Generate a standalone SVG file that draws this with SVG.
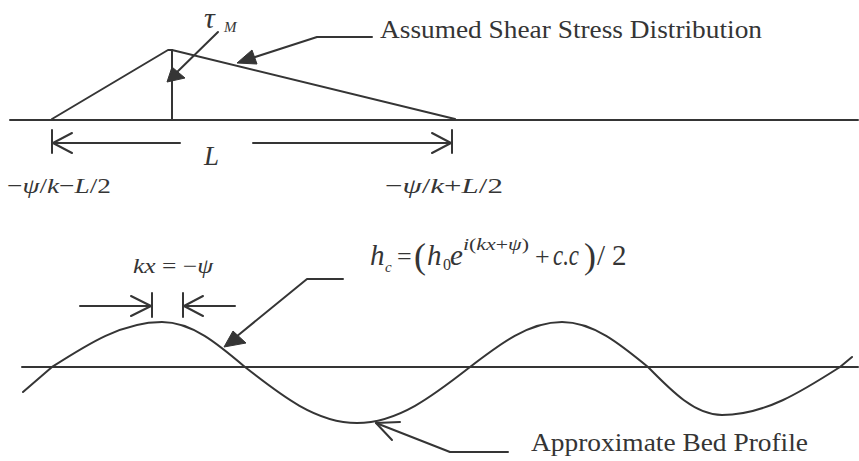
<svg xmlns="http://www.w3.org/2000/svg" width="859" height="461" viewBox="0 0 859 461">
<defs>
<style>
.ln{fill:none;stroke:#353535;stroke-width:2;stroke-linecap:round;stroke-linejoin:round}
.ah{fill:#353535;stroke:#353535;stroke-width:1}
.t{font-family:"Liberation Serif","Times New Roman",serif;fill:#353535}
.m{font-family:"Liberation Serif","Times New Roman",serif;font-style:italic;fill:#353535}
.u{font-style:normal}
</style>
</defs>
<rect width="859" height="461" fill="#ffffff"/>

<g id="top-axis">
<line class="ln" x1="10" y1="120" x2="858" y2="120"/>
</g>

<g id="shear-distribution">
<polyline class="ln" points="52,119 168,50 172,50 455,119"/>
<line class="ln" x1="172" y1="50" x2="172" y2="120"/>
</g>

<g id="tau-label">
<text class="m" font-family="Liberation Serif, serif" x="204" y="28" font-size="30">τ</text>
<text class="m" font-family="Liberation Serif, serif" x="224" y="32" font-size="15">M</text>
</g>

<g id="assumed-label">
<text class="t" font-family="Liberation Serif, serif" x="380" y="38" font-size="25" textLength="382" lengthAdjust="spacingAndGlyphs">Assumed Shear Stress Distribution</text>
</g>

<g id="L-dimension">
<line class="ln" x1="52" y1="130" x2="52" y2="153"/>
<line class="ln" x1="452" y1="130" x2="452" y2="153"/>
<line class="ln" x1="52" y1="143" x2="180" y2="143"/>
<line class="ln" x1="253" y1="143" x2="452" y2="143"/>
<polyline class="ln" points="72,133 53,143 72,153"/>
<polyline class="ln" points="432,133 451,143 432,153"/>
<text class="m" font-family="Liberation Serif, serif" x="204" y="165" font-size="27">L</text>
</g>

<g id="left-limit">
<text class="m" font-family="Liberation Serif, serif" x="7" y="193" font-size="22" textLength="104" lengthAdjust="spacingAndGlyphs"><tspan class="u">−</tspan>ψ<tspan class="u">/</tspan>k<tspan class="u">−</tspan>L<tspan class="u">/2</tspan></text>
</g>

<g id="right-limit">
<text class="m" font-family="Liberation Serif, serif" x="385" y="193" font-size="22" textLength="118" lengthAdjust="spacingAndGlyphs"><tspan class="u">−</tspan>ψ<tspan class="u">/</tspan>k<tspan class="u">+</tspan>L<tspan class="u">/2</tspan></text>
</g>

<g id="bottom-axis">
<line class="ln" x1="22" y1="367" x2="858" y2="367"/>
</g>

<g id="bed-profile">
<path class="ln" d="M23,392 L52,367 C87.9,344 122.2,322 162,322 C192,322 217.9,344 245,367 C281.5,395.7 316.5,423 357,423 C397.9,423 433.2,395.7 470,367 C500,344 528.7,322 562,322 C593.1,322 620,344 648,367 C672.1,391.6 695.2,415 722,415 C764.7,415 801.5,391.6 840,367 L852,357"/>
</g>

<g id="kx-dimension">
<line class="ln" x1="152" y1="293" x2="152" y2="317"/>
<line class="ln" x1="183" y1="293" x2="183" y2="317"/>
<line class="ln" x1="80" y1="306" x2="152" y2="306"/>
<line class="ln" x1="183" y1="306" x2="235" y2="306"/>
<polyline class="ln" points="131,296 151,306 131,316"/>
<polyline class="ln" points="203,296 184,306 203,316"/>
<text class="m" font-family="Liberation Serif, serif" x="133" y="273" font-size="21" textLength="80" lengthAdjust="spacingAndGlyphs">kx<tspan class="u"> = −</tspan>ψ</text>
</g>

<g id="hc-formula">
<text class="m" font-family="Liberation Serif, serif" x="370" y="265" font-size="29">h</text>
<text class="m" font-family="Liberation Serif, serif" x="385" y="272" font-size="15">c</text>
<text class="t" font-family="Liberation Serif, serif" x="397" y="265" font-size="26">=</text>
<text class="t" font-family="Liberation Serif, serif" x="414" y="268" font-size="36">(</text>
<text class="m" font-family="Liberation Serif, serif" x="427" y="265" font-size="29">h</text>
<text class="t" font-family="Liberation Serif, serif" x="443" y="270" font-size="16">0</text>
<text class="m" font-family="Liberation Serif, serif" x="450" y="265" font-size="29">e</text>
<text class="m" font-family="Liberation Serif, serif" x="463" y="250" font-size="17" textLength="66" lengthAdjust="spacingAndGlyphs">i<tspan class="u">(</tspan>kx<tspan class="u">+</tspan>ψ<tspan class="u">)</tspan></text>
<text class="t" font-family="Liberation Serif, serif" x="535" y="265" font-size="26">+</text>
<text class="m" font-family="Liberation Serif, serif" x="553" y="265" font-size="29" textLength="26" lengthAdjust="spacingAndGlyphs">c.c</text>
<text class="t" font-family="Liberation Serif, serif" x="584" y="268" font-size="36">)</text>
<text class="t" font-family="Liberation Serif, serif" x="597" y="265" font-size="29">/</text>
<text class="t" font-family="Liberation Serif, serif" x="612" y="265" font-size="29">2</text>
</g>

<g id="approx-label">
<text class="t" font-family="Liberation Serif, serif" x="531" y="451" font-size="25" textLength="277" lengthAdjust="spacingAndGlyphs">Approximate Bed Profile</text>
</g>

<g id="connectors">
<line class="ln" x1="218" y1="32" x2="172" y2="77"/>
<polygon class="ah" points="167,82 172,67 185,78"/>
<polyline class="ln" points="372,37 317,37 252,58"/>
<polygon class="ah" points="237,63 252,50 257,64"/>
<polyline class="ln" points="343,279 307,279 236,337"/>
<polygon class="ah" points="224,347 233,331 246,343"/>
<polyline class="ln" points="508,452 450,452 376,423"/>
<polyline class="ln" points="400,422 376,423 392,440"/>
</g>
</svg>
